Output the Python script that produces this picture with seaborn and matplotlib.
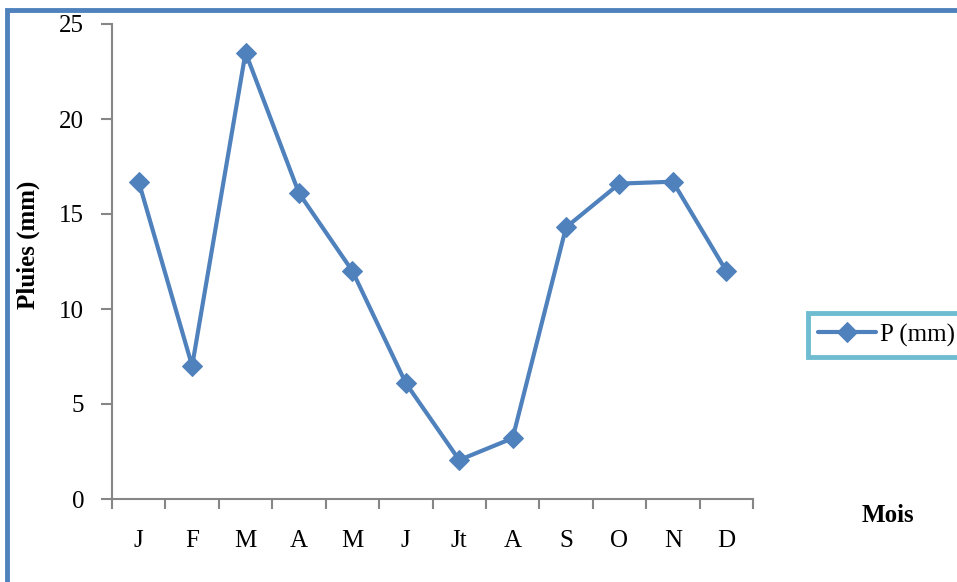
import matplotlib
matplotlib.use("Agg")
import matplotlib.pyplot as plt
from matplotlib.patches import Rectangle
from matplotlib.ticker import FixedLocator, NullFormatter
import pandas as pd
import seaborn as sns

# Monthly rainfall
months = ["J", "F", "M", "A", "M", "J", "Jt", "A", "S", "O", "N", "D"]
rain_mm = [16.7, 7.0, 23.5, 16.1, 12.0, 6.1, 2.05, 3.2, 14.3, 16.6, 16.7, 12.0]
series_name = "P (mm)"

df = pd.DataFrame({"pos": list(range(len(months))), "rain": rain_mm})

sns.set_theme(style="white")
plt.rcParams["font.family"] = ["Liberation Serif", "DejaVu Serif"]
plt.rcParams["text.color"] = "black"

FS = 18
W, H = 957, 582
fig = plt.figure(figsize=(W / 100, H / 100), dpi=100)
ax = fig.add_axes([112 / W, 1 - 499 / H, (753 - 112) / W, (499 - 24) / H])

blue = "#4F81BD"
sns.lineplot(data=df, x="pos", y="rain", ax=ax, color=blue, linewidth=3,
             marker="D", markersize=10, markeredgecolor=blue, label=series_name)

ax.set_xlim(-0.5, len(months) - 0.5)
ax.set_ylim(0, 25)
ax.set_yticks([0, 5, 10, 15, 20, 25])

# category labels centred, tick marks on category boundaries
ax.xaxis.set_major_locator(FixedLocator(list(range(len(months)))))
ax.set_xticklabels(months)
ax.xaxis.set_minor_locator(FixedLocator([i - 0.5 for i in range(len(months) + 1)]))
ax.xaxis.set_minor_formatter(NullFormatter())
ax.tick_params(axis="x", which="major", length=0, pad=22, labelsize=FS, labelcolor="black")
ax.tick_params(axis="x", which="minor", length=7, width=1.5, color="#868686", direction="out", bottom=True)
ax.tick_params(axis="y", which="major", length=8, width=1.5, color="#868686", direction="out",
               left=True, labelsize=FS, pad=12, labelcolor="black")

for side in ["top", "right"]:
    ax.spines[side].set_visible(False)
for side in ["left", "bottom"]:
    ax.spines[side].set_color("#868686")
    ax.spines[side].set_linewidth(1.5)

ax.set_xlabel("")
ax.set_ylabel("")
fig.text(28 / W, 1 - 245 / H, "Pluies (mm)", rotation=90, ha="center", va="center",
         fontsize=FS, fontweight="bold", color="black")
fig.text(888 / W, 1 - 516 / H, "Mois", ha="center", va="center",
         fontsize=FS, fontweight="bold", color="black")

ax.legend_.remove()
handles, labels = ax.get_legend_handles_labels()
leg = fig.legend(handles, labels, loc="center left",
                 bbox_to_anchor=(808 / W, 1 - 335 / H), frameon=True, fancybox=False,
                 fontsize=FS, handlelength=2.3, handletextpad=0.2, borderpad=0.4,
                 borderaxespad=0, labelcolor="black")
leg.get_frame().set_edgecolor("#4BACC6")
leg.get_frame().set_linewidth(3.5)

# outer chart border
fig.add_artist(Rectangle((7.5 / W, -0.1), 1.2, (1 - 9.5 / H) + 0.1, transform=fig.transFigure,
                         fill=False, edgecolor=blue, linewidth=3.5, clip_on=False))

fig.savefig("out.png", dpi=100)
